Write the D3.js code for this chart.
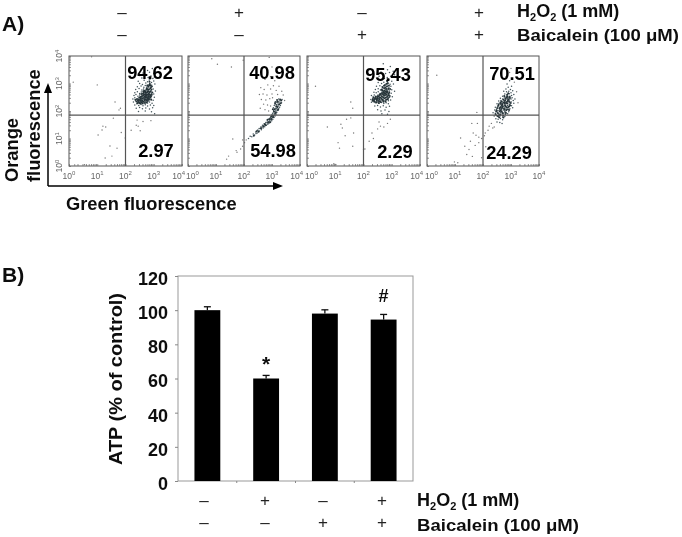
<!DOCTYPE html>
<html><head><meta charset="utf-8">
<script src="https://cdn.jsdelivr.net/npm/d3@7"></script>
<style>html,body{margin:0;padding:0;background:#fff}svg{display:block}text{font-family:"Liberation Sans",Arial,sans-serif}</style>
</head><body><svg id="c" width="682" height="537"></svg>
<script>
// Flow cytometry points: [log10 green, log10 orange]
const flow1Dense = [[2.55,3.52],[2.78,3.47],[2.95,3.55],[3.05,3.44],[2.62,3.38],[2.85,3.41],[3.0,3.36],[2.5,3.29],[2.72,3.33],[2.9,3.27],[3.02,3.24],[2.58,3.2],[2.8,3.22],[2.87,3.16],[2.97,3.18],[2.45,3.08],[2.66,3.12],[2.78,3.06],[2.84,3.13],[2.92,3.04],[3.0,3.09],[2.5,3.0],[2.6,2.96],[2.72,3.02],[2.8,2.95],[2.86,3.0],[2.93,2.94],[3.04,2.98],[2.42,2.88],[2.55,2.91],[2.65,2.86],[2.7,2.93],[2.76,2.87],[2.82,2.9],[2.88,2.84],[2.95,2.89],[2.36,2.78],[2.48,2.82],[2.58,2.76],[2.64,2.8],[2.7,2.75],[2.75,2.81],[2.8,2.76],[2.85,2.79],[2.9,2.74],[2.98,2.8],[3.06,2.73],[2.33,2.66],[2.42,2.7],[2.5,2.64],[2.56,2.69],[2.62,2.65],[2.67,2.7],[2.72,2.64],[2.77,2.68],[2.82,2.63],[2.87,2.69],[2.92,2.65],[3.0,2.62],[2.3,2.56],[2.37,2.6],[2.44,2.54],[2.5,2.58],[2.55,2.53],[2.6,2.57],[2.65,2.52],[2.7,2.58],[2.75,2.54],[2.8,2.57],[2.85,2.52],[2.92,2.55],[3.02,2.5],[2.26,2.44],[2.33,2.48],[2.4,2.43],[2.46,2.47],[2.51,2.42],[2.57,2.46],[2.62,2.41],[2.68,2.46],[2.73,2.42],[2.79,2.45],[2.84,2.4],[2.9,2.44],[2.98,2.39],[2.28,2.33],[2.36,2.37],[2.42,2.32],[2.48,2.36],[2.54,2.31],[2.6,2.35],[2.66,2.3],[2.72,2.34],[2.78,2.29],[2.85,2.33],[2.94,2.28],[2.33,2.22],[2.4,2.26],[2.47,2.2],[2.55,2.24],[2.62,2.19],[2.7,2.23],[2.78,2.18],[2.88,2.22],[3.0,2.2],[2.38,2.1],[2.5,2.13],[2.6,2.08],[2.72,2.11],[2.85,2.07],[2.96,2.12],[2.46,1.98],[2.7,2.0],[2.92,1.97],[3.03,1.9]];
const flow1Core = [[2.73,2.61],[2.81,2.47],[2.66,2.74],[2.88,2.83],[2.59,2.38],[2.77,2.93],[2.52,2.51],[2.84,2.66],[2.69,2.29],[2.93,2.59],[2.47,2.33],[2.63,2.57],[2.79,2.72],[2.71,2.43],[2.86,2.97],[2.56,2.62],[2.91,2.41],[2.75,2.83],[2.41,2.44],[2.68,2.52],[2.83,2.55],[2.61,2.27],[2.74,2.38],[2.89,2.71],[2.54,2.45],[2.78,2.59],[2.65,2.66],[2.82,2.78],[2.49,2.29],[2.72,2.49],[2.95,2.67],[2.58,2.54],[2.87,2.49],[2.44,2.37],[2.76,2.67],[2.64,2.34],[2.81,2.88],[2.53,2.36],[2.7,2.7],[2.85,3.06],[2.39,2.35],[2.67,2.41],[2.9,2.52],[2.57,2.3],[2.79,2.36],[2.62,2.63],[2.84,2.44],[2.5,2.48],[2.74,2.77],[2.92,2.78],[2.46,2.41],[2.69,2.61],[2.8,2.52],[2.6,2.46],[2.77,2.44],[2.86,2.6],[2.55,2.4],[2.71,2.55],[2.83,2.71],[2.65,2.47],[2.75,2.31],[2.43,2.28],[2.89,2.93],[2.58,2.33],[2.68,2.37],[2.81,2.62],[2.52,2.27],[2.74,2.56],[2.63,2.71],[2.78,2.79],[2.91,2.87],[2.84,2.94],[2.35,2.41],[2.48,2.4],[2.72,2.68],[2.66,2.59],[2.88,2.57],[2.8,2.41],[2.57,2.52],[2.76,2.49]];
const flow1Sparse = [[0.15,3.05],[1.0,2.95],[0.8,3.97],[1.63,2.33],[1.77,2.04],[1.57,1.74],[1.2,1.45],[1.17,1.31],[1.3,1.42],[1.03,1.13],[1.45,0.73],[1.28,0.29],[1.52,0.36],[1.7,0.65],[1.99,1.02],[2.41,1.67],[2.45,1.45],[2.52,1.28],[2.38,1.48],[2.2,1.3],[2.9,1.65],[2.62,1.62],[0.2,0.04],[0.55,0.05],[1.85,1.22],[1.82,2.1]];
const flow2Dense = [[2.16,1.0],[2.22,1.08],[2.28,1.06],[2.33,1.16],[2.38,1.13],[2.42,1.24],[2.47,1.2],[2.5,1.3],[2.55,1.27],[2.58,1.36],[2.62,1.32],[2.64,1.42],[2.68,1.38],[2.71,1.47],[2.74,1.43],[2.76,1.53],[2.8,1.48],[2.82,1.57],[2.85,1.52],[2.87,1.62],[2.9,1.56],[2.92,1.66],[2.95,1.6],[2.96,1.72],[2.99,1.65],[3.0,1.78],[3.03,1.7],[3.04,1.84],[3.07,1.76],[3.08,1.9],[3.11,1.82],[3.1,1.97],[3.14,1.88],[3.13,2.04],[3.17,1.95],[3.16,2.1],[3.2,2.02],[3.18,2.18],[3.24,2.08],[3.22,2.24],[3.27,2.14],[3.25,2.3],[3.3,2.2],[3.06,2.02],[3.02,1.92],[3.0,1.86],[2.94,1.76],[2.88,1.7],[2.83,1.64],[2.78,1.58],[2.72,1.54],[2.66,1.48],[2.6,1.42],[2.54,1.36],[2.48,1.3],[2.43,1.18],[2.9,1.62],[2.96,1.68],[3.02,1.76],[3.06,1.84],[3.1,1.88],[3.12,1.96],[3.15,2.0],[3.18,2.06],[3.2,2.12],[3.23,2.18],[3.12,2.1],[3.08,2.2],[3.16,2.24],[3.05,2.12],[3.2,2.3],[3.28,2.36],[3.34,2.3],[3.36,2.42],[3.1,2.32],[3.24,2.44]];
const flow2Core = [[3.13,1.93],[3.19,2.15],[3.05,1.78],[2.98,1.71],[3.26,2.25],[3.09,2.06],[3.21,2.35],[2.93,1.59],[3.15,2.17],[3.01,1.83],[2.86,1.57],[2.77,1.49],[3.31,2.28],[3.11,2.26],[2.69,1.44],[3.07,1.97],[2.61,1.37],[3.18,2.4],[2.52,1.25],[3.29,2.42],[2.84,1.68],[3.22,2.05],[3.03,2.06],[2.45,1.26],[3.14,2.33],[2.97,1.8],[2.74,1.52],[2.35,1.1],[2.91,1.71],[3.33,2.38]];
const flow2Sparse = [[1.55,3.6],[0.85,3.9],[1.05,3.7],[1.97,3.85],[2.9,3.95],[3.0,3.6],[2.95,3.25],[2.75,3.15],[3.1,3.1],[2.85,2.95],[3.05,2.92],[3.25,2.9],[2.6,2.85],[2.72,2.78],[2.95,2.8],[3.15,2.75],[3.35,2.72],[2.55,2.6],[2.68,2.62],[2.82,2.58],[3.0,2.62],[3.2,2.6],[3.4,2.58],[2.62,2.42],[2.78,2.4],[2.92,2.45],[3.02,2.48],[3.45,2.38],[2.7,2.25],[2.84,2.22],[2.95,2.18],[2.58,2.1],[2.75,2.05],[2.88,2.0],[1.6,0.98],[1.95,0.72],[1.88,0.62],[1.72,0.56],[1.45,0.36],[1.38,0.25],[1.75,0.5],[2.02,0.85],[2.08,0.95],[1.95,0.95]];
const flow3Dense = [[2.7,3.72],[2.95,3.62],[2.85,3.5],[3.05,3.45],[2.62,3.42],[2.78,3.36],[2.92,3.4],[3.1,3.32],[2.55,3.26],[2.7,3.3],[2.84,3.22],[2.96,3.26],[2.6,3.14],[2.74,3.18],[2.82,3.1],[2.9,3.14],[3.0,3.08],[2.52,3.04],[2.64,3.0],[2.72,3.05],[2.8,2.98],[2.86,3.03],[2.94,2.97],[3.06,2.98],[2.46,2.9],[2.58,2.92],[2.66,2.88],[2.73,2.93],[2.79,2.87],[2.84,2.91],[2.9,2.85],[2.97,2.9],[2.42,2.78],[2.52,2.81],[2.6,2.76],[2.66,2.8],[2.72,2.75],[2.77,2.79],[2.82,2.74],[2.87,2.78],[2.92,2.73],[3.0,2.77],[3.1,2.72],[2.37,2.68],[2.45,2.66],[2.52,2.7],[2.58,2.64],[2.64,2.68],[2.7,2.63],[2.75,2.67],[2.8,2.62],[2.85,2.66],[2.9,2.61],[2.98,2.65],[2.28,2.56],[2.34,2.52],[2.38,2.58],[2.44,2.54],[2.5,2.57],[2.56,2.52],[2.62,2.56],[2.68,2.51],[2.74,2.55],[2.8,2.5],[2.86,2.54],[2.92,2.49],[3.02,2.52],[2.26,2.42],[2.32,2.46],[2.38,2.41],[2.44,2.45],[2.5,2.4],[2.56,2.44],[2.62,2.39],[2.7,2.43],[2.76,2.38],[2.82,2.42],[2.88,2.37],[2.96,2.4],[2.28,2.32],[2.35,2.34],[2.42,2.3],[2.48,2.33],[2.55,2.28],[2.64,2.31],[2.72,2.27],[2.8,2.3],[2.88,2.26],[2.4,2.18],[2.5,2.2],[2.6,2.15],[2.7,2.19],[2.8,2.14],[2.92,2.17],[2.5,2.05],[2.62,2.0],[2.76,2.04],[2.9,1.98],[2.65,1.9],[2.85,1.88]];
const flow3Core = [[2.79,2.71],[2.71,2.58],[2.87,2.47],[2.62,2.63],[2.83,2.89],[2.45,2.43],[2.74,2.46],[2.91,2.67],[2.37,2.38],[2.67,2.75],[2.82,2.59],[2.53,2.36],[2.76,2.95],[2.59,2.49],[2.88,2.81],[2.42,2.47],[2.69,2.37],[2.85,2.72],[2.33,2.42],[2.73,2.83],[2.56,2.58],[2.8,2.41],[2.49,2.51],[2.93,2.55],[2.65,2.54],[2.77,2.63],[2.4,2.34],[2.86,3.0],[2.61,2.33],[2.72,2.69],[2.51,2.44],[2.84,2.53],[2.68,2.86],[2.36,2.48],[2.78,2.35],[2.89,2.63],[2.57,2.41],[2.75,2.74],[2.47,2.37],[2.63,2.46],[2.81,2.8],[2.7,2.5],[2.43,2.52],[2.9,2.92],[2.54,2.29],[2.83,2.66],[2.66,2.42],[2.76,2.57],[2.32,2.37],[2.6,2.6],[2.86,2.43],[2.73,2.92],[2.48,2.46],[2.79,2.48],[2.67,2.62],[2.94,2.8],[2.39,2.44],[2.58,2.35],[2.82,2.99],[2.71,2.34],[2.52,2.54],[2.88,2.57],[2.64,2.77],[2.77,2.85],[2.46,2.31],[2.74,2.64],[2.84,3.08],[2.69,2.68],[2.55,2.47],[2.8,2.69]];
const flow3Sparse = [[0.3,2.9],[1.55,2.33],[1.62,2.1],[1.55,1.75],[1.4,1.7],[1.2,1.52],[1.25,1.38],[0.72,1.42],[1.35,1.1],[1.65,1.2],[1.1,0.85],[1.15,0.65],[1.62,0.72],[0.95,0.08],[1.02,0.06],[2.55,1.6],[2.6,1.45],[2.72,1.42],[2.5,1.35],[2.85,1.55],[2.35,1.0],[2.2,0.9],[2.05,0.62],[2.3,1.2],[2.95,1.7],[2.0,0.6]];
const flow4Dense = [[2.95,3.1],[2.86,2.98],[3.02,2.9],[2.9,2.86],[2.98,2.78],[2.82,2.8],[3.06,2.74],[2.74,2.72],[2.84,2.7],[2.92,2.72],[3.0,2.66],[3.1,2.6],[2.78,2.62],[2.86,2.6],[2.94,2.63],[3.02,2.56],[2.7,2.54],[2.78,2.52],[2.84,2.55],[2.9,2.5],[2.96,2.54],[3.04,2.48],[3.14,2.44],[2.62,2.46],[2.7,2.44],[2.76,2.47],[2.82,2.42],[2.88,2.45],[2.94,2.4],[3.0,2.44],[3.08,2.38],[2.56,2.36],[2.64,2.38],[2.7,2.33],[2.76,2.37],[2.82,2.32],[2.88,2.36],[2.94,2.3],[3.0,2.34],[3.1,2.28],[2.5,2.26],[2.58,2.28],[2.64,2.23],[2.7,2.27],[2.76,2.22],[2.82,2.26],[2.88,2.2],[2.94,2.24],[3.02,2.19],[2.44,2.14],[2.52,2.17],[2.58,2.12],[2.64,2.16],[2.7,2.11],[2.76,2.15],[2.82,2.1],[2.88,2.13],[2.96,2.08],[3.06,2.12],[2.42,2.04],[2.48,2.06],[2.54,2.01],[2.6,2.05],[2.66,2.0],[2.72,2.04],[2.78,1.99],[2.84,2.02],[2.92,1.97],[2.36,1.94],[2.44,1.92],[2.5,1.96],[2.56,1.9],[2.62,1.94],[2.68,1.89],[2.74,1.92],[2.8,1.87],[2.88,1.9],[2.4,1.82],[2.48,1.84],[2.55,1.79],[2.62,1.83],[2.7,1.78],[2.78,1.8],[2.46,1.72],[2.54,1.7],[2.62,1.73],[2.7,1.68],[2.5,1.6],[2.6,1.58],[2.68,1.55]];
const flow4Core = [[2.83,2.29],[2.71,2.17],[2.91,2.43],[2.59,2.09],[2.79,2.39],[2.67,1.97],[2.87,2.27],[2.53,1.93],[2.75,2.09],[2.95,2.51],[2.63,2.31],[2.81,2.17],[2.47,1.99],[2.73,2.41],[2.89,2.06],[2.57,1.85],[2.77,2.28],[2.93,2.35],[2.65,2.07],[2.85,2.49],[2.51,2.11],[2.69,2.24],[2.97,2.21],[2.61,1.87],[2.8,1.95],[2.87,2.59],[2.55,2.19],[2.72,1.84],[2.91,2.15],[2.66,2.35],[2.83,2.04],[2.45,1.88],[2.76,2.55],[2.99,2.29],[2.6,1.99],[2.79,2.21],[2.86,2.34],[2.68,2.12],[2.52,1.82],[2.93,2.04],[2.74,2.31],[2.81,2.46],[2.63,2.02],[2.89,2.39],[2.7,1.93],[2.56,2.24],[2.84,2.14],[2.77,2.05],[2.96,2.47],[2.64,2.26],[2.9,2.65],[2.49,2.02],[2.73,1.76],[2.82,1.93],[2.67,2.19],[2.87,2.53],[2.58,1.77],[2.78,2.33],[2.94,2.17],[2.62,2.14]];
const flow4Sparse = [[0.35,3.3],[2.95,3.4],[3.0,3.55],[2.82,3.25],[3.12,3.05],[3.2,2.7],[3.25,2.3],[2.3,1.55],[2.22,1.45],[2.35,1.38],[2.18,1.3],[2.4,1.42],[2.08,1.2],[1.95,1.0],[1.78,1.95],[1.8,1.55],[1.65,1.2],[1.75,1.12],[1.85,1.05],[1.2,1.02],[1.55,0.9],[1.72,0.75],[1.85,0.85],[1.5,0.6],[1.35,0.72],[1.42,0.42],[1.62,0.35],[0.98,0.15],[1.1,0.12],[1.95,0.3],[2.05,1.1],[2.1,0.7],[1.6,1.55]];

const flowDense = [flow1Dense, flow2Dense, flow3Dense, flow4Dense];
const flowCore = [flow1Core, flow2Core, flow3Core, flow4Core];
const flowSparse = [flow1Sparse, flow2Sparse, flow3Sparse, flow4Sparse];
const upperPct = ["94.62","40.98","95.43","70.51"];
const lowerPct = ["2.97","54.98","2.29","24.29"];
const flowTickPowers = [0,1,2,3,4];

// ATP bars
const categories = ["c1","c2","c3","c4"];
const atp = [100,60,98,94.5];
const atpErr = [2,1.8,2.2,3];
const marks = ["","*","","#"];
const yTicks = [0,20,40,60,80,100,120];
const h2o2 = ["–","+","–","+"];
const baicalein = ["–","–","+","+"];

const svg = d3.select("#c");
const F = '"Liberation Sans",Arial,sans-serif';
const defs = svg.append("defs");
defs.append("filter").attr("id","soft").attr("x","-2%").attr("y","-2%").attr("width","104%").attr("height","104%")
  .append("feGaussianBlur").attr("stdDeviation",0.4);
defs.append("marker").attr("id","arrow").attr("viewBox","0 0 10 8").attr("refX",1).attr("refY",4)
  .attr("markerUnits","userSpaceOnUse").attr("markerWidth",10).attr("markerHeight",8).attr("orient","auto")
  .append("path").attr("d","M0,0L10,4L0,8Z").attr("fill","#000");
const root = svg.append("g").attr("filter","url(#soft)");

function boldText(x,y,t,size,anchor){
  return root.append("text").attr("x",x).attr("y",y).attr("font-size",size).attr("font-weight","bold")
    .attr("text-anchor",anchor||"start").attr("fill","#111").text(t);
}
function labelH2O2(x,y){
  const t = root.append("text").attr("x",x).attr("y",y).attr("font-size",18).attr("font-weight","bold").attr("fill","#111");
  t.append("tspan").text("H");
  t.append("tspan").attr("font-size",11).attr("dy",4).text("2");
  t.append("tspan").attr("dy",-4).text("O");
  t.append("tspan").attr("font-size",11).attr("dy",4).text("2");
  t.append("tspan").attr("dy",-4).text(" (1 mM)");
}
function labelBai(x,y){
  root.append("text").attr("x",x).attr("y",y).attr("font-size",17).attr("font-weight","bold").attr("fill","#111")
    .attr("textLength",162).attr("lengthAdjust","spacingAndGlyphs").text("Baicalein (100 μM)");
}
function signs(xs,y,arr){
  arr.forEach((s,i)=>root.append("text").attr("x",xs[i]).attr("y",y).attr("text-anchor","middle")
    .attr("font-size",17).attr("fill","#222").text(s));
}

// ---------- Panel A ----------
boldText(2,31,"A)",21);
const topX = [122,239,362,479];
signs(topX,18,h2o2);
signs(topX,40,baicalein);
labelH2O2(517,17);
labelBai(517,41);

const panelX = [[69,182],[188,300],[307,420],[427,539]];
const py = d3.scaleLog().domain([1,1e4]).range([166,56]);
const minor = [];
for(let d=0;d<4;d++) for(let m=1;m<10;m++) minor.push(m*Math.pow(10,d));
minor.push(1e4);
const dec = v=>Math.pow(10,v);

panelX.forEach((rx,i)=>{
  const g = root.append("g");
  const px = d3.scaleLog().domain([1,1e4]).range(rx);
  g.append("g").selectAll("circle").data(flowSparse[i]).join("circle")
    .attr("cx",d=>px(dec(d[0]))).attr("cy",d=>py(dec(d[1]))).attr("r",0.7).attr("fill","#777");
  g.append("g").selectAll("circle").data(flowDense[i]).join("circle")
    .attr("cx",d=>px(dec(d[0]))).attr("cy",d=>py(dec(d[1]))).attr("r",0.75).attr("fill","#44545a");
  g.append("g").selectAll("circle").data(flowCore[i]).join("circle")
    .attr("cx",d=>px(dec(d[0]))).attr("cy",d=>py(dec(d[1]))).attr("r",1).attr("fill","#263439");
  g.append("rect").attr("x",rx[0]).attr("y",56).attr("width",rx[1]-rx[0]).attr("height",110)
    .attr("fill","none").attr("stroke","#555").attr("stroke-width",1);
  g.append("line").attr("x1",px(100)).attr("x2",px(100)).attr("y1",56).attr("y2",166).attr("stroke","#555").attr("stroke-width",1.2);
  g.append("line").attr("x1",rx[0]).attr("x2",rx[1]).attr("y1",py(dec(1.85))).attr("y2",py(dec(1.85))).attr("stroke","#555").attr("stroke-width",1.2);
  const ax = g.append("g").attr("transform","translate(0,166)")
    .call(d3.axisBottom(px).tickValues(minor).tickSize(-2).tickFormat(""));
  const ay = g.append("g").attr("transform",`translate(${rx[0]},0)`)
    .call(d3.axisLeft(py).tickValues(minor).tickSize(-2).tickFormat(""));
  [ax,ay].forEach(a=>{a.select(".domain").remove();a.selectAll("line").attr("stroke","#666").attr("stroke-width",0.7);});
  flowTickPowers.forEach(p=>{
    // the shared edge between neighbouring panels keeps its two labels apart
    const left = p===0 && i>0, right = p===4 && i<3;
    const t = g.append("text").attr("x",left?rx[0]-2:right?rx[1]+3:px(dec(p))).attr("y",178.5)
      .attr("text-anchor",left?"start":right?"end":"middle").attr("font-size",8.5).attr("fill","#666");
    t.append("tspan").text("10");
    t.append("tspan").attr("font-size",6).attr("dy",-3.5).text(p);
  });
  if(i===0) flowTickPowers.forEach(p=>{
    const t = g.append("text").attr("transform",`translate(62,${py(dec(p))}) rotate(-90)`).attr("text-anchor","middle").attr("font-size",8.5).attr("fill","#666");
    t.append("tspan").text("10");
    t.append("tspan").attr("font-size",6).attr("dy",-3.5).text(p);
  });
});
const upPos = [[150,79],[272,79],[388,81],[512,80]];
const lowPos = [[156,157],[273,157],[395,158],[509,159]];
upperPct.forEach((t,i)=>boldText(upPos[i][0],upPos[i][1],t,18.3,"middle").attr("fill","#000"));
lowerPct.forEach((t,i)=>boldText(lowPos[i][0],lowPos[i][1],t,18.3,"middle").attr("fill","#000"));

root.append("line").attr("x1",48).attr("y1",186).attr("x2",48).attr("y2",92).attr("stroke","#000").attr("stroke-width",1.5).attr("marker-end","url(#arrow)");
root.append("line").attr("x1",48).attr("y1",186).attr("x2",274).attr("y2",186).attr("stroke","#000").attr("stroke-width",1.5).attr("marker-end","url(#arrow)");
root.append("text").attr("transform","translate(18,182) rotate(-90)").attr("font-size",18.3).attr("font-weight","bold").attr("fill","#111").text("Orange");
root.append("text").attr("transform","translate(40,182) rotate(-90)").attr("font-size",18.3).attr("font-weight","bold").attr("fill","#111").text("fluorescence");
boldText(66,210,"Green fluorescence",18.3);

// ---------- Panel B ----------
boldText(2,282,"B)",21);
const x = d3.scaleBand().domain(categories).range([178,413]).paddingInner(0.56).paddingOuter(0.28);
const y = d3.scaleLinear().domain([0,120]).range([481,276]);
const band = d3.scaleBand().domain(categories).range([178,413]);
root.append("rect").attr("x",178).attr("y",y(120)).attr("width",235).attr("height",y(0)-y(120)).attr("fill","none").attr("stroke","#999").attr("stroke-width",1);
categories.slice(1).forEach(c=>root.append("line").attr("x1",band(c)).attr("x2",band(c)).attr("y1",y(0)).attr("y2",y(0)+2).attr("stroke","#888"));
const by = root.append("g").attr("transform","translate(178,0)")
  .call(d3.axisLeft(y).tickValues(yTicks).tickSize(3).tickPadding(7));
by.select(".domain").remove();
by.selectAll("line").attr("stroke","#888");
by.selectAll("text").attr("font-size",18).attr("font-weight","bold").attr("fill","#111").attr("font-family",F).attr("dy","0.47em");

const cx = c=>x(c)+x.bandwidth()/2;
root.append("g").selectAll("line").data(categories).join("line")
  .attr("x1",cx).attr("x2",cx).attr("y1",(c,i)=>y(atp[i])).attr("y2",(c,i)=>y(atp[i]+atpErr[i])).attr("stroke","#111").attr("stroke-width",1.3);
root.append("g").selectAll("line").data(categories).join("line")
  .attr("x1",c=>cx(c)-3.5).attr("x2",c=>cx(c)+3.5).attr("y1",(c,i)=>y(atp[i]+atpErr[i])).attr("y2",(c,i)=>y(atp[i]+atpErr[i])).attr("stroke","#111").attr("stroke-width",1.3);
root.append("g").selectAll("rect").data(categories).join("rect")
  .attr("x",c=>x(c)).attr("width",x.bandwidth()).attr("y",(c,i)=>y(atp[i])).attr("height",(c,i)=>y(0)-y(atp[i])).attr("fill","#000");
marks.forEach((m,i)=>{ if(m) boldText(cx(categories[i]),y(atp[i]+atpErr[i])-(m==="*"?4:12),m,m==="*"?21:18,"middle"); });

root.append("text").attr("transform","translate(122,465) rotate(-90)").attr("font-size",19).attr("font-weight","bold").attr("fill","#111")
  .attr("textLength",172).attr("lengthAdjust","spacingAndGlyphs").text("ATP (% of control)");
const botX = [204,265,323,382];
signs(botX,506,h2o2);
signs(botX,528,baicalein);
labelH2O2(417,506);
labelBai(417,531);
</script></body></html>
